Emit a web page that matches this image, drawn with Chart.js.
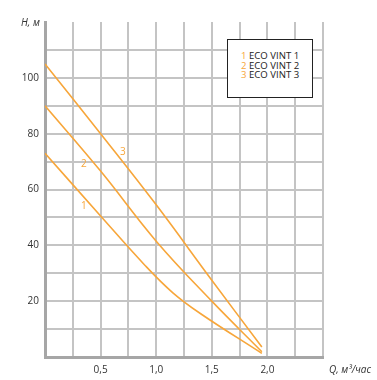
<!DOCTYPE html>
<html>
<head>
<meta charset="utf-8">
<script src="https://cdn.jsdelivr.net/npm/chart.js@4.4.1/dist/chart.umd.min.js"></script>
<style>
  html, body { margin: 0; padding: 0; background: #fff; }
  #wrap { position: relative; width: 377px; height: 380px; font-family: "Open Sans", sans-serif; }
  canvas { position: absolute; left: 0; top: 0; }
  .axt { position: absolute; font-style: italic; font-size: 10px; color: #333; white-space: nowrap; line-height: 12px; }
  #legend { position: absolute; left: 227px; top: 39px; width: 84px; height: 57px; border: 1px solid #222; background: #fff;
            font-size: 9.6px; color: #222; line-height: 9.5px; box-sizing: content-box; }
  #legend div { padding-left: 13px; white-space: nowrap; }
  #legend span { color: #f7a63a; }
</style>
</head>
<body>
<div id="wrap">
  <canvas id="c" width="377" height="380"></canvas>
  <div class="axt" style="left:21px; top:16px;">H, м</div>
  <div class="axt" style="left:329px; top:363px;">Q, м³/час</div>
  <div id="legend"></div>
</div>
<script>
// ---- data ----
const seriesNames = ["ECO VINT 1", "ECO VINT 2", "ECO VINT 3"];
const seriesIds = ["1", "2", "3"];
const q1 = [0, 0.5, 0.9, 1.15, 1.4, 1.95];
const h1 = [73, 50.5, 32.8, 23, 15.5, 1.3];
const q2 = [0, 0.5, 1.0, 1.5, 1.95];
const h2 = [90, 66.6, 41.5, 20, 1.9];
const q3 = [0, 0.5, 1.0, 1.5, 1.95];
const h3 = [105, 80, 54.5, 27.5, 3.6];
// label anchor points for curve numbers (data coords)
const labelQ = [0.35, 0.35, 0.70];
const labelH = [54, 69.2, 73.3];
const xTickLabels = [0.5, 1.0, 1.5, 2.0];
const yTickLabels = [20, 40, 60, 80, 100];

const ORANGE = '#f7a63a';
const GRID = '#c4c4c4';
const AXIS = '#a6a6a6';

function pts(q, h) { return q.map((v, i) => ({ x: v, y: h[i] })); }
const allQ = [q1, q2, q3], allH = [h1, h2, h3];

// legend
const leg = document.getElementById('legend');
leg.style.paddingTop = '11px';
leg.style.height = '46px';
seriesNames.forEach((n, i) => {
  const d = document.createElement('div');
  d.innerHTML = '<span>' + seriesIds[i] + '</span> ' + n;
  leg.appendChild(d);
});

const curveLabels = {
  id: 'curveLabels',
  afterDatasetsDraw(chart) {
    const { ctx, scales: { x, y } } = chart;
    ctx.save();
    ctx.fillStyle = ORANGE;
    ctx.font = '10px "Open Sans"';
    ctx.textAlign = 'center';
    ctx.textBaseline = 'middle';
    seriesIds.forEach((id, i) => {
      ctx.fillText(id, x.getPixelForValue(labelQ[i]), y.getPixelForValue(labelH[i]));
    });
    ctx.restore();
  }
};

new Chart(document.getElementById('c'), {
  type: 'line',
  data: {
    datasets: allQ.map((q, i) => ({
      label: seriesNames[i],
      data: pts(q, allH[i]),
      borderColor: ORANGE,
      borderWidth: 1.6,
      pointRadius: 0,
      fill: false,
      tension: 0.4
    }))
  },
  options: {
    responsive: false,
    devicePixelRatio: 1,
    animation: false,
    layout: { padding: { left: 0, right: 54, top: 22, bottom: 0 } },
    plugins: { legend: { display: false }, tooltip: { enabled: false } },
    scales: {
      x: {
        type: 'linear', min: 0, max: 2.5,
        afterBuildTicks(s) { s.ticks = []; for (let i = 0; i <= 10; i++) s.ticks.push({ value: i * 0.25 }); },
        afterFit(s) { s.height = 23; },
        grid: { color: GRID, lineWidth: 2, drawTicks: false },
        border: { color: AXIS, width: 3 },
        ticks: {
          padding: 7,
          maxRotation: 0,
          autoSkip: false,
          color: '#333',
          font: { family: 'Open Sans', size: 10 },
          callback(v) {
            const ok = xTickLabels.some(t => Math.abs(t - v) < 1e-6);
            return ok ? v.toFixed(1).replace('.', ',') : '';
          }
        }
      },
      y: {
        type: 'linear', min: 0, max: 120,
        afterBuildTicks(s) { s.ticks = []; for (let i = 0; i <= 12; i++) s.ticks.push({ value: i * 10 }); },
        afterFit(s) { s.width = 45; },
        grid: {
          color: (c) => (c.tick && c.tick.value === 120) ? 'rgba(0,0,0,0)' : GRID,
          lineWidth: 2, drawTicks: false
        },
        border: { color: AXIS, width: 3 },
        ticks: {
          padding: 6,
          autoSkip: false,
          color: '#333',
          font: { family: 'Open Sans', size: 10 },
          callback(v) { return yTickLabels.includes(v) ? String(v) : ''; }
        }
      }
    }
  },
  plugins: [curveLabels]
});
</script>
</body>
</html>
